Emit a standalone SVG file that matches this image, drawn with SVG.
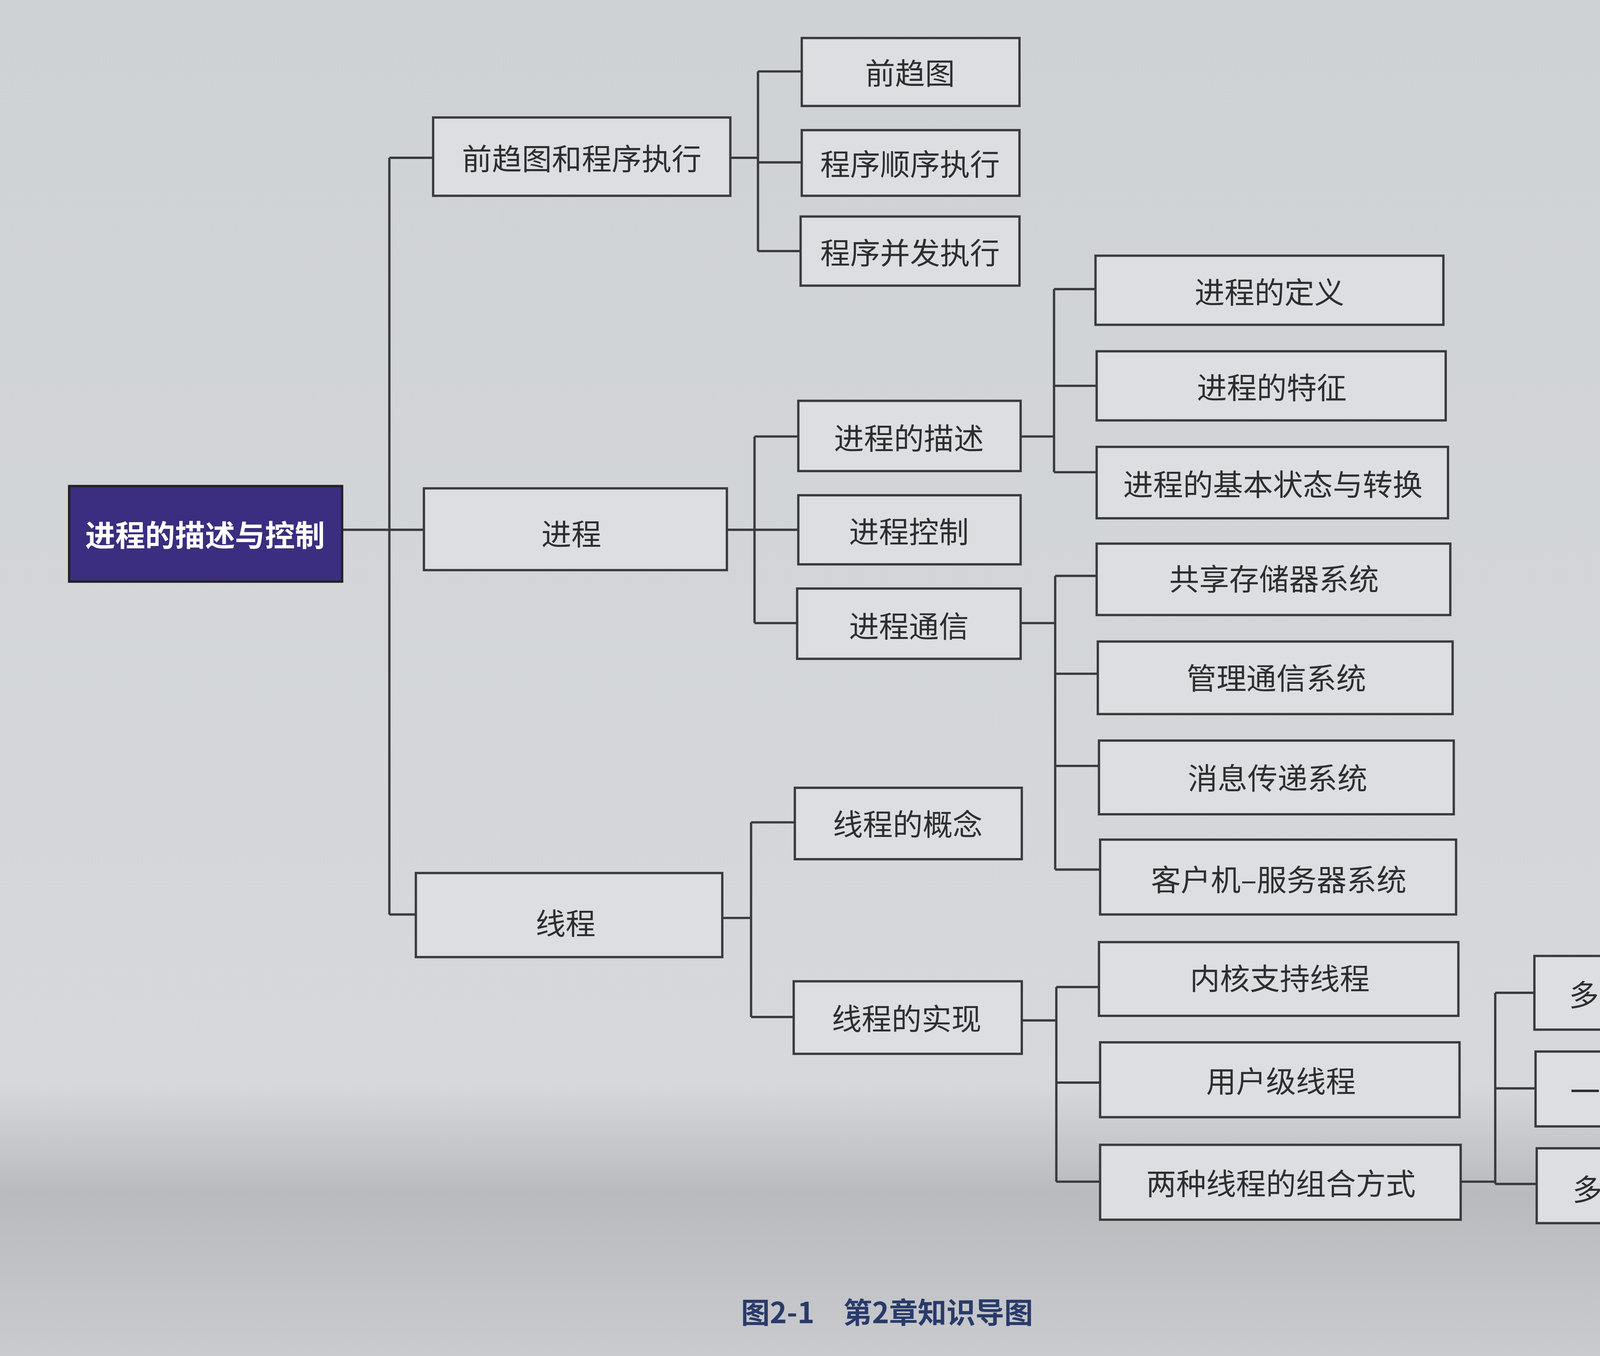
<svg xmlns="http://www.w3.org/2000/svg" width="4624" height="3472" viewBox="0 0 4624 3472">
<defs>
<linearGradient id="bg" x1="0" y1="0" x2="0" y2="1">
<stop offset="0" stop-color="#cfd2d5"/><stop offset="0.8" stop-color="#d6d8db"/><stop offset="0.88" stop-color="#b8babd"/><stop offset="1" stop-color="#c9cbce"/>
</linearGradient>
<style>
.b{fill:#dcdee1;stroke:#3a3a3c;stroke-width:2}
.t{font-family:"Noto Sans CJK SC","Liberation Sans",sans-serif;font-size:26px;fill:#2e2e30;text-anchor:middle;dominant-baseline:central}
.c{fill:none;stroke:#3a3a3c;stroke-width:2}
</style>
</defs>
<rect width="4624" height="3472" fill="url(#bg)"/>
<g transform="scale(2.949)">
<g id="connectors">
<path class="c" d="M297 460H338M338 137V794M338 137H376M338 460H368M338 794H361"/>
<path class="c" d="M634 137H658M658 62V218M658 62H696M658 141H696M658 218H695"/>
<path class="c" d="M631 460H655M655 379V541M655 379H693M655 460H693M655 541H692"/>
<path class="c" d="M627 797H652M652 714V883M652 714H690M652 883H689"/>
<path class="c" d="M886 379H915M915 251V410M915 251H951M915 335H952M915 410H952"/>
<path class="c" d="M886 541H916M916 500V755M916 500H952M916 585H953M916 665H954M916 755H955"/>
<path class="c" d="M887 886H917M917 857V1026M917 857H954M917 940H955M917 1026H955"/>
<path class="c" d="M1268 1026H1298M1298 862V1028M1298 862H1332M1298 945H1333M1298 1028H1334"/>
</g>
<g id="root"><rect x="60" y="422" width="237" height="83" fill="#3b2d80" stroke="#222" stroke-width="2"/><text class="t" x="178" y="463" style="fill:#fff;font-weight:bold">进程的描述与控制</text></g>
<g id="n1"><rect class="b" x="376" y="102" width="258" height="68"/><text class="t" x="505" y="136">前趋图和程序执行</text></g>
<g id="n2"><rect class="b" x="368" y="424" width="263" height="71"/><text class="t" x="496" y="462">进程</text></g>
<g id="n3"><rect class="b" x="361" y="758" width="266" height="73"/><text class="t" x="491" y="800">线程</text></g>
<g id="n4"><rect class="b" x="696" y="33" width="189" height="59"/><text class="t" x="790" y="62">前趋图</text></g>
<g id="n5"><rect class="b" x="696" y="113" width="189" height="57"/><text class="t" x="790" y="141">程序顺序执行</text></g>
<g id="n6"><rect class="b" x="695" y="188" width="190" height="60"/><text class="t" x="790" y="218">程序并发执行</text></g>
<g id="n7"><rect class="b" x="693" y="348" width="193" height="61"/><text class="t" x="789" y="379">进程的描述</text></g>
<g id="n8"><rect class="b" x="693" y="430" width="193" height="60"/><text class="t" x="789" y="460">进程控制</text></g>
<g id="n9"><rect class="b" x="692" y="511" width="194" height="61"/><text class="t" x="789" y="542">进程通信</text></g>
<g id="n10"><rect class="b" x="690" y="684" width="197" height="62"/><text class="t" x="788" y="714">线程的概念</text></g>
<g id="n11"><rect class="b" x="689" y="852" width="198" height="63"/><text class="t" x="787" y="883">线程的实现</text></g>
<g id="n12"><rect class="b" x="951" y="222" width="302" height="60"/><text class="t" x="1102" y="252">进程的定义</text></g>
<g id="n13"><rect class="b" x="952" y="305" width="303" height="60"/><text class="t" x="1104" y="335">进程的特征</text></g>
<g id="n14"><rect class="b" x="952" y="388" width="305" height="62"/><text class="t" x="1105" y="419">进程的基本状态与转换</text></g>
<g id="n15"><rect class="b" x="952" y="472" width="307" height="62"/><text class="t" x="1106" y="501">共享存储器系统</text></g>
<g id="n16"><rect class="b" x="953" y="557" width="308" height="63"/><text class="t" x="1108" y="587">管理通信系统</text></g>
<g id="n17"><rect class="b" x="954" y="643" width="308" height="64"/><text class="t" x="1109" y="674">消息传递系统</text></g>
<g id="n18"><rect class="b" x="955" y="729" width="309" height="65"/><text class="t" x="1110" y="762">客户机–服务器系统</text></g>
<g id="n19"><rect class="b" x="954" y="818" width="312" height="64"/><text class="t" x="1111" y="848">内核支持线程</text></g>
<g id="n20"><rect class="b" x="955" y="905" width="312" height="65"/><text class="t" x="1112" y="937">用户级线程</text></g>
<g id="n21"><rect class="b" x="955" y="994" width="313" height="65"/><text class="t" x="1112" y="1026">两种线程的组合方式</text></g>
<g id="n22"><rect class="b" x="1332" y="830" width="187" height="64"/><text class="t" x="1427" y="862">多对一模型</text></g>
<g id="n23"><rect class="b" x="1333" y="913" width="188" height="65"/><text class="t" x="1428" y="946">一对一模型</text></g>
<g id="n24"><rect class="b" x="1334" y="997" width="190" height="65"/><text class="t" x="1430" y="1031">多对多模型</text></g>
<text class="t" x="770" y="1138" style="fill:#2a3a6a;font-weight:bold;font-size:25px">图2-1　第2章知识导图</text>
<text class="t" x="1510" y="1169" style="font-size:8px;fill:#888">CSDN @没有对象的野指针Z3</text>
</g>
</svg>
